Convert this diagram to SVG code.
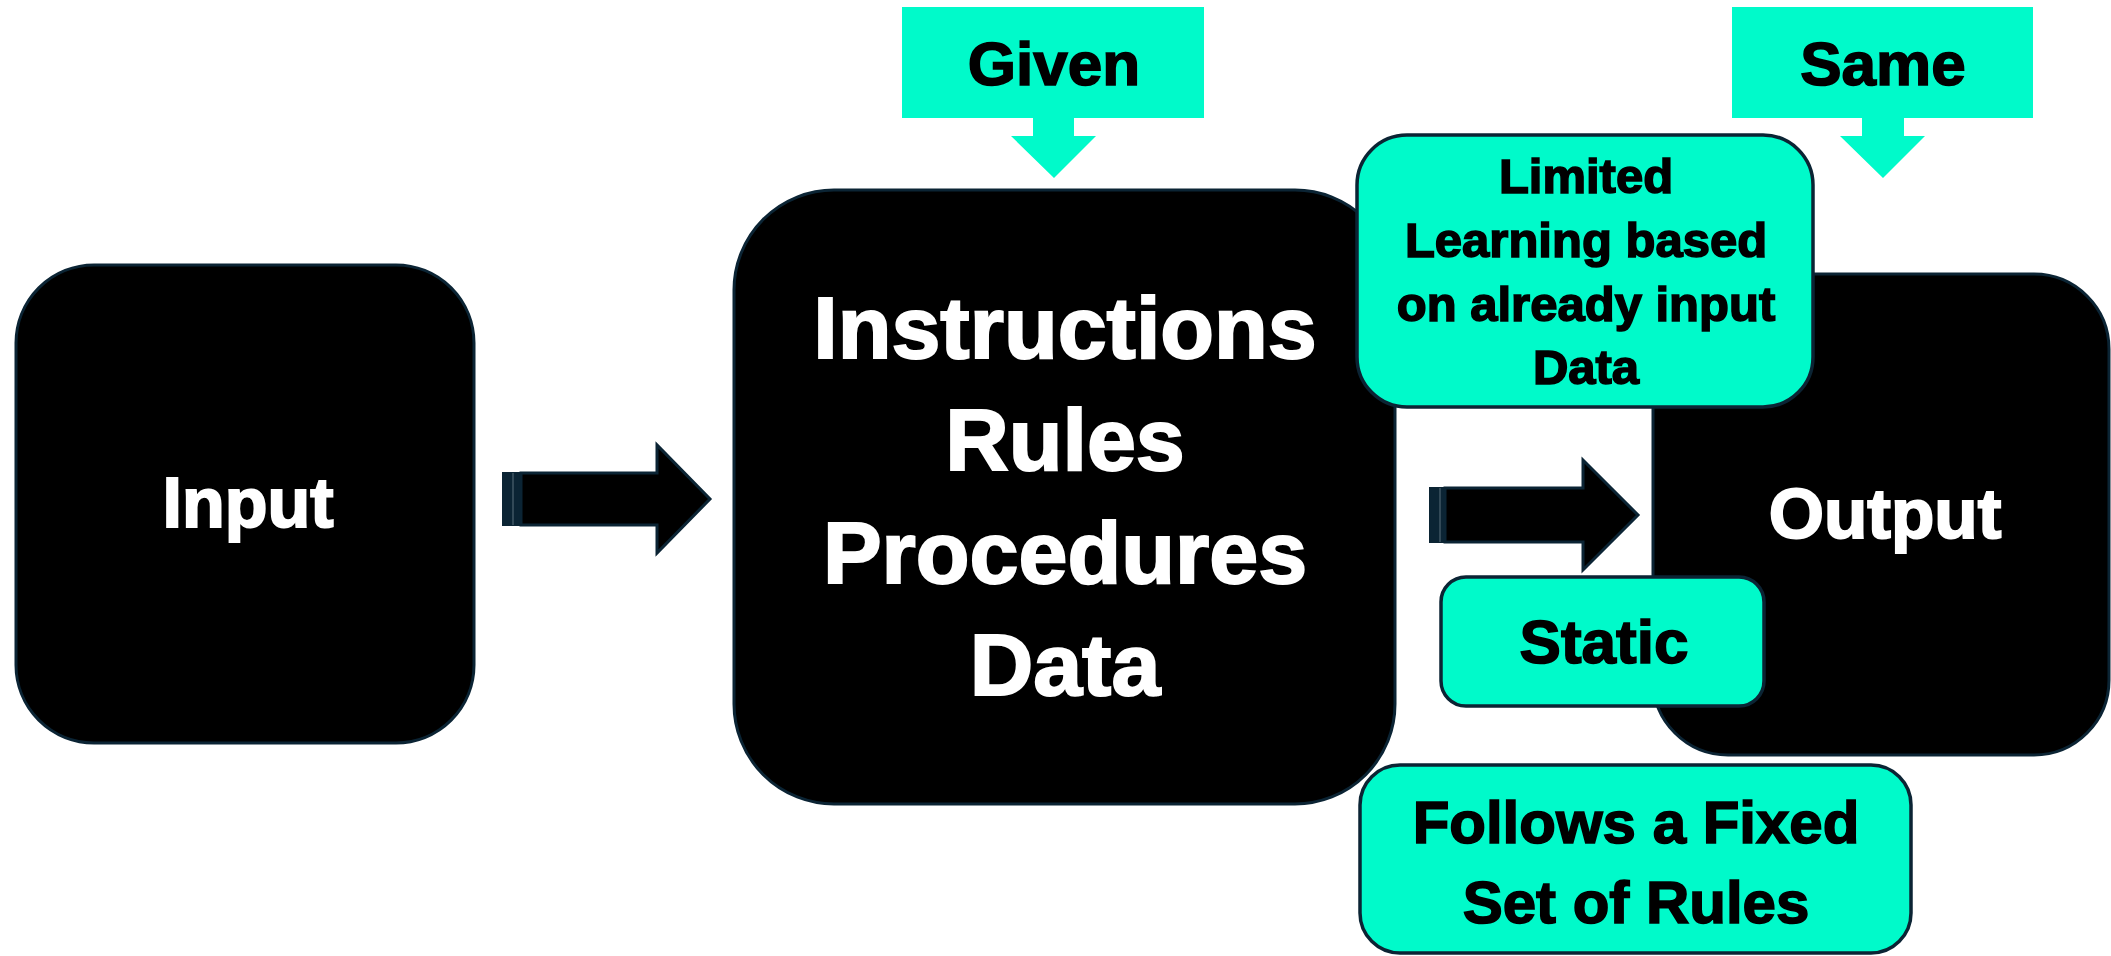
<svg xmlns="http://www.w3.org/2000/svg" width="2111" height="956" viewBox="0 0 2111 956">
<style>
.blk{fill:#000;stroke:#0b2434;stroke-width:3}
.cyan{fill:#00FACA;stroke:#0b2434;stroke-width:3.5}
.flat{fill:#00FACA}
.t{font-family:"Liberation Sans",Arial,sans-serif;font-weight:bold;text-anchor:middle}
.w{fill:#fff;stroke:#fff;stroke-width:2}
.k{fill:#000;stroke:#000;stroke-width:1.6}
</style>
<rect width="2111" height="956" fill="#fff"/>
<g id="input">
<rect class="blk" x="16" y="265" width="458" height="478" rx="78"/>
<text class="t w" x="248" y="527" font-size="70">Input</text>
</g>
<g id="connectors">
<rect x="502" y="472" width="19" height="54" fill="#0b2434"/>
<line x1="513" y1="473" x2="513" y2="525" stroke="#5a6e7a" stroke-width="1"/>
<polygon class="blk" points="521,473 657,473 657,445 710,499 657,553 657,525 521,525"/>
<rect x="1429" y="487" width="16" height="56" fill="#0b2434"/>
<line x1="1440" y1="488" x2="1440" y2="542" stroke="#5a6e7a" stroke-width="1"/>
<polygon class="blk" points="1445,488 1583,488 1583,460 1638,515 1583,570 1583,542 1445,542"/>
</g>
<g id="main">
<rect class="blk" x="734" y="190" width="661" height="614" rx="100"/>
<text class="t w" x="1065" y="358" font-size="88">Instructions</text>
<text class="t w" x="1065" y="470" font-size="88">Rules</text>
<text class="t w" x="1065" y="583" font-size="88">Procedures</text>
<text class="t w" x="1065" y="695" font-size="88">Data</text>
</g>
<g id="output">
<rect class="blk" x="1653" y="274" width="456" height="481" rx="75"/>
<text class="t w" x="1885" y="538" font-size="71">Output</text>
</g>
<g id="given">
<rect class="flat" x="902" y="7" width="302" height="111"/>
<polygon class="flat" points="1033,117 1074,117 1074,136 1096,136 1054,178 1011,136 1033,136"/>
<text class="t k" x="1054" y="85" font-size="62">Given</text>
</g>
<g id="same">
<rect class="flat" x="1732" y="7" width="301" height="111"/>
<polygon class="flat" points="1862,117 1904,117 1904,136 1925,136 1883,178 1840,136 1862,136"/>
<text class="t k" x="1883" y="85" font-size="62">Same</text>
</g>
<g id="limited">
<rect class="cyan" x="1357" y="135" width="456" height="272" rx="50"/>
<text class="t k" x="1586" y="193" font-size="49">Limited</text>
<text class="t k" x="1586" y="257" font-size="49">Learning based</text>
<text class="t k" x="1586" y="321" font-size="49">on already input</text>
<text class="t k" x="1586" y="384" font-size="49">Data</text>
</g>
<g id="static">
<rect class="cyan" x="1441" y="577" width="323" height="129" rx="25"/>
<text class="t k" x="1604" y="663" font-size="62">Static</text>
</g>
<g id="follows">
<rect class="cyan" x="1360" y="765" width="551" height="188" rx="40"/>
<text class="t k" x="1636" y="843" font-size="60">Follows a Fixed</text>
<text class="t k" x="1636" y="923" font-size="60">Set of Rules</text>
</g>
</svg>
